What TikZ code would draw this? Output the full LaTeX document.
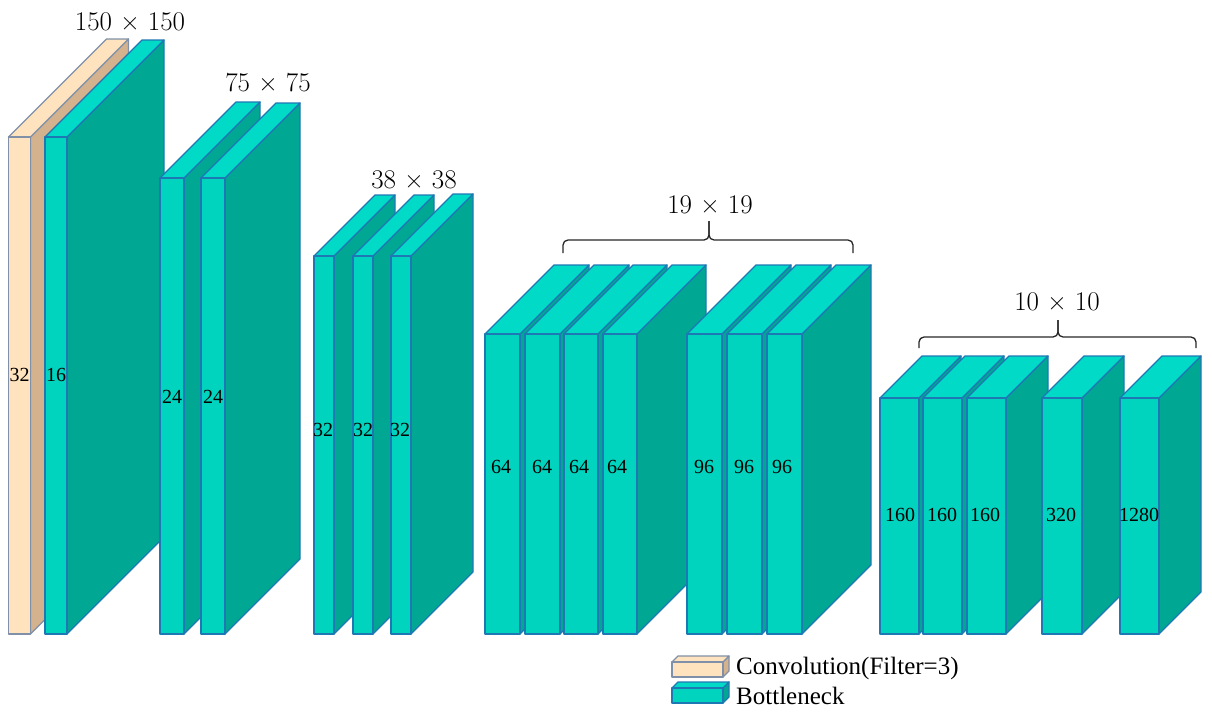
\documentclass[tikz,border=0pt]{standalone}
\usepackage{fontspec}
\newfontfamily\tnr{Liberation Serif}
\definecolor{cyF}{RGB}{0,212,190}
\definecolor{cyT}{RGB}{0,218,198}
\definecolor{cyS}{RGB}{0,168,148}
\definecolor{cyE}{RGB}{30,120,180}
\definecolor{cvF}{RGB}{255,226,190}
\definecolor{cvS}{RGB}{212,178,142}
\definecolor{cvE}{RGB}{128,144,168}
\tikzset{
  blkline/.style={line width=1.3pt,line join=round},
  numlbl/.style={font=\tnr\fontsize{20}{24}\selectfont,inner sep=0pt,text=black},
  dimlbl/.style={font=\fontsize{27}{30}\selectfont,inner sep=0pt,text=black},
  leglbl/.style={font=\tnr\fontsize{25}{28}\selectfont,inner sep=0pt,anchor=west,text=black},
  bracel/.style={line width=1.3pt,draw=black!85,rounded corners=5pt}
}
% #1 x1, #2 x2, #3 ytop, #4 ybot, #5 depth, #6 front, #7 top, #8 side, #9 edge
\newcommand\nnblock[9]{%
  \filldraw[blkline,fill=#8,draw=#9] (#2,#3) -- (#2+#5,#3-#5) -- (#2+#5,#4-#5) -- (#2,#4) -- cycle;
  \filldraw[blkline,fill=#7,draw=#9] (#1,#3) -- (#1+#5,#3-#5) -- (#2+#5,#3-#5) -- (#2,#3) -- cycle;
  \filldraw[blkline,fill=#6,draw=#9] (#1,#3) rectangle (#2,#4);
}
\newcommand\bn[5]{\nnblock{#1}{#2}{#3}{#4}{#5}{cyF}{cyT}{cyS}{cyE}}
\begin{document}
\begin{tikzpicture}[x=1pt,y=-1pt]
\useasboundingbox (0,0) rectangle (1212,718);
% 150 x 150
\nnblock{8.5}{30.5}{137}{634}{98}{cvF}{cvF}{cvS}{cvE}
\node[numlbl] (n1) at (19.5,375) {32};
\bn{45}{67}{137}{634}{97}
\node[numlbl] (n2) at (56,375) {16};
% 75 x 75
\bn{160}{184}{178}{634}{76}
\node[numlbl] (n3) at (172,397) {24};
\bn{201}{225}{178}{634}{75}
\node[numlbl] (n4) at (213,397) {24};
% 38 x 38
\bn{314}{334}{256}{634}{61}
\node[numlbl] (n5) at (323,430) {32};
\bn{353}{373}{256}{634}{61}
\node[numlbl] (n6) at (363,430) {32};
\bn{391}{411}{256}{634}{62}
\node[numlbl] (n7) at (400,430) {32};
% 19 x 19
\bn{485}{520}{334}{634}{69}
\node[numlbl] (n8) at (501,467) {64};
\bn{525}{560}{334}{634}{69}
\node[numlbl] (n9) at (542,467) {64};
\bn{564}{598}{334}{634}{69}
\node[numlbl] (n10) at (579,467) {64};
\bn{603}{637}{334}{634}{69}
\node[numlbl] (n11) at (617,467) {64};
\bn{687}{722}{334}{634}{69}
\node[numlbl] (n12) at (704,467) {96};
\bn{727}{762}{334}{634}{69}
\node[numlbl] (n13) at (744,467) {96};
\bn{767}{802}{334}{634}{69}
\node[numlbl] (n14) at (782,467) {96};
% 10 x 10
\bn{880}{919}{398}{634}{42}
\node[numlbl] (n15) at (900,515) {160};
\bn{923}{962}{398}{634}{42}
\node[numlbl] (n16) at (942,515) {160};
\bn{967}{1006}{398}{634}{42}
\node[numlbl] (n17) at (985,515) {160};
\bn{1042}{1082}{398}{634}{42}
\node[numlbl] (n18) at (1061,515) {320};
\bn{1120}{1159}{398}{634}{42}
\node[numlbl] (n19) at (1139,515) {1280};
% dimension labels
\node[dimlbl] (d1) at (130,22) {150 × 150};
\node[dimlbl] (d2) at (268,83) {75 × 75};
\node[dimlbl] (d3) at (414,180) {38 × 38};
\node[dimlbl] (d4) at (710,205) {19 × 19};
\node[dimlbl] (d5) at (1057,302) {10 × 10};
% braces
\draw[bracel] (563,253) |- (709,240) -- (709,221);
\draw[bracel] (853,253) |- (709,240) -- (709,221);
\draw[bracel] (919,348) |- (1058,337) -- (1058,320);
\draw[bracel] (1196,348) |- (1058,337) -- (1058,320);
% legend
\nnblock{672}{723}{662}{677}{6}{cvF}{cvF}{cvS}{cvE}
\node[leglbl] (lg1) at (736,668) {Convolution(Filter=3)};
\nnblock{672}{723}{688}{703}{6}{cyF}{cyT}{cyS}{cyE}
\node[leglbl] (lg2) at (736,696) {Bottleneck};
\end{tikzpicture}
\end{document}
